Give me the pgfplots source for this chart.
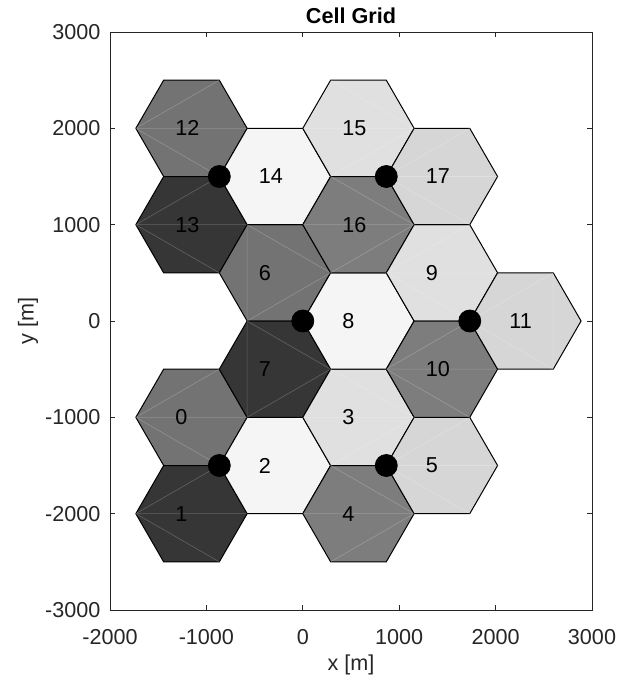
\documentclass[border=0pt]{standalone}
\usepackage{fontspec}
\setmainfont{Liberation Sans}
\usepackage{pgfplots}
\pgfplotsset{compat=1.18}
\definecolor{cMidA}{gray}{0.45}
\definecolor{cDark}{gray}{0.21}
\definecolor{cVLight}{gray}{0.96}
\definecolor{cLightA}{gray}{0.88}
\definecolor{cMidB}{gray}{0.49}
\definecolor{cLightB}{gray}{0.84}
\definecolor{axcol}{gray}{0.15}
\begin{document}
\fontsize{10.8}{13}\selectfont
\begin{tikzpicture}
\begin{axis}[
  scale only axis, width=241pt, height=289pt,
  xmin=-2000, xmax=3000, ymin=-3000, ymax=3000,
  xtick={-2000,-1000,0,1000,2000,3000},
  ytick={-3000,-2000,-1000,0,1000,2000,3000},
  scaled ticks=false,
  /pgf/number format/1000 sep={},
  /pgf/number format/assume math mode=true,
  tick align=inside, xtick pos=both, ytick pos=both,
  major tick length=2.5pt,
  axis line style={axcol, line width=0.4pt},
  every tick/.style={axcol, line width=0.4pt},
  tick label style={font=\fontsize{10.8}{13}\selectfont, text=axcol},
  xticklabel style={yshift=-6pt},
  yticklabel style={xshift=-1pt},
  title={Cell Grid},
  title style={at={(axis description cs:0.5,1)}, anchor=center, yshift=2pt, font=\fontsize{10.8}{13}\selectfont\bfseries, text=black},
  xlabel={x [m]}, ylabel={y [m]},
  xlabel style={at={(axis description cs:0.5,0)}, anchor=center, yshift=-27.5pt, font=\fontsize{10.8}{13}\selectfont, text=axcol},
  ylabel style={at={(axis description cs:0,0.5)}, anchor=center, yshift=41pt, font=\fontsize{10.8}{13}\selectfont, text=axcol},
  every node near coord/.append style={inner sep=0pt, font=\fontsize{10.8}{13}\selectfont, text=black},
  tri/.style={draw=white, draw opacity=0.22, line width=0.3pt, mark=none},
]
% hexagon cells
\addplot[draw=black, line width=0.5pt, fill=cMidA] coordinates {(-577.35,-1000) (-866.03,-500) (-1443.38,-500) (-1732.05,-1000) (-1443.38,-1500) (-866.03,-1500)} -- cycle; % 0
\addplot[draw=black, line width=0.5pt, fill=cDark] coordinates {(-577.35,-2000) (-866.03,-1500) (-1443.38,-1500) (-1732.05,-2000) (-1443.38,-2500) (-866.03,-2500)} -- cycle; % 1
\addplot[draw=black, line width=0.5pt, fill=cMidA] coordinates {(-577.35,2000) (-866.03,2500) (-1443.38,2500) (-1732.05,2000) (-1443.38,1500) (-866.03,1500)} -- cycle; % 12
\addplot[draw=black, line width=0.5pt, fill=cDark] coordinates {(-577.35,1000) (-866.03,1500) (-1443.38,1500) (-1732.05,1000) (-1443.38,500) (-866.03,500)} -- cycle; % 13
\addplot[draw=black, line width=0.5pt, fill=cVLight] coordinates {(288.68,-1500) (0,-1000) (-577.35,-1000) (-866.03,-1500) (-577.35,-2000) (0,-2000)} -- cycle; % 2
\addplot[draw=black, line width=0.5pt, fill=cMidA] coordinates {(288.68,500) (0,1000) (-577.35,1000) (-866.03,500) (-577.35,0) (0,0)} -- cycle; % 6
\addplot[draw=black, line width=0.5pt, fill=cDark] coordinates {(288.68,-500) (0,0) (-577.35,0) (-866.03,-500) (-577.35,-1000) (0,-1000)} -- cycle; % 7
\addplot[draw=black, line width=0.5pt, fill=cVLight] coordinates {(288.68,1500) (0,2000) (-577.35,2000) (-866.03,1500) (-577.35,1000) (0,1000)} -- cycle; % 14
\addplot[draw=black, line width=0.5pt, fill=cLightA] coordinates {(1154.70,-1000) (866.03,-500) (288.68,-500) (0,-1000) (288.68,-1500) (866.03,-1500)} -- cycle; % 3
\addplot[draw=black, line width=0.5pt, fill=cMidB] coordinates {(1154.70,-2000) (866.03,-1500) (288.68,-1500) (0,-2000) (288.68,-2500) (866.03,-2500)} -- cycle; % 4
\addplot[draw=black, line width=0.5pt, fill=cVLight] coordinates {(1154.70,0) (866.03,500) (288.68,500) (0,0) (288.68,-500) (866.03,-500)} -- cycle; % 8
\addplot[draw=black, line width=0.5pt, fill=cLightA] coordinates {(1154.70,2000) (866.03,2500) (288.68,2500) (0,2000) (288.68,1500) (866.03,1500)} -- cycle; % 15
\addplot[draw=black, line width=0.5pt, fill=cMidB] coordinates {(1154.70,1000) (866.03,1500) (288.68,1500) (0,1000) (288.68,500) (866.03,500)} -- cycle; % 16
\addplot[draw=black, line width=0.5pt, fill=cLightB] coordinates {(2020.73,-1500) (1732.05,-1000) (1154.70,-1000) (866.03,-1500) (1154.70,-2000) (1732.05,-2000)} -- cycle; % 5
\addplot[draw=black, line width=0.5pt, fill=cLightA] coordinates {(2020.73,500) (1732.05,1000) (1154.70,1000) (866.03,500) (1154.70,0) (1732.05,0)} -- cycle; % 9
\addplot[draw=black, line width=0.5pt, fill=cMidB] coordinates {(2020.73,-500) (1732.05,0) (1154.70,0) (866.03,-500) (1154.70,-1000) (1732.05,-1000)} -- cycle; % 10
\addplot[draw=black, line width=0.5pt, fill=cLightB] coordinates {(2020.73,1500) (1732.05,2000) (1154.70,2000) (866.03,1500) (1154.70,1000) (1732.05,1000)} -- cycle; % 17
\addplot[draw=black, line width=0.5pt, fill=cLightB] coordinates {(2886.75,0) (2598.08,500) (2020.73,500) (1732.05,0) (2020.73,-500) (2598.08,-500)} -- cycle; % 11
% faint patch triangulation edges
\addplot[tri] coordinates {(-866.03,-500) (-1732.05,-1000) (-577.35,-1000) (-1732.05,-1000) (-866.03,-1500)}; % 0
\addplot[tri] coordinates {(-866.03,-1500) (-1732.05,-2000) (-577.35,-2000) (-1732.05,-2000) (-866.03,-2500)}; % 1
\addplot[tri] coordinates {(-866.03,2500) (-1732.05,2000) (-577.35,2000) (-1732.05,2000) (-866.03,1500)}; % 12
\addplot[tri] coordinates {(-866.03,1500) (-1732.05,1000) (-577.35,1000) (-1732.05,1000) (-866.03,500)}; % 13
\addplot[tri] coordinates {(1732.05,2000) (866.03,1500) (2020.73,1500) (866.03,1500) (1732.05,1000)}; % 17
\addplot[tri] coordinates {(1732.05,-1000) (866.03,-1500) (2020.73,-1500) (866.03,-1500) (1732.05,-2000)}; % 5
\addplot[tri] coordinates {(1732.05,1000) (866.03,500) (2020.73,500) (866.03,500) (1732.05,0)}; % 9
\addplot[tri] coordinates {(1732.05,0) (866.03,-500) (2020.73,-500) (866.03,-500) (1732.05,-1000)}; % 10
\addplot[tri] coordinates {(288.68,2500) (1154.70,2000) (0,2000) (1154.70,2000) (288.68,1500)}; % 15
\addplot[tri] coordinates {(288.68,1500) (1154.70,1000) (0,1000) (1154.70,1000) (288.68,500)}; % 16
\addplot[tri] coordinates {(288.68,-1500) (1154.70,-2000) (0,-2000) (1154.70,-2000) (288.68,-2500)}; % 4
\addplot[tri] coordinates {(288.68,-500) (1154.70,-1000) (0,-1000) (1154.70,-1000) (288.68,-1500)}; % 3
\addplot[tri] coordinates {(-577.35,1000) (-577.35,0) (288.68,500) (-577.35,1000)}; % 6
\addplot[tri] coordinates {(-577.35,0) (-577.35,-1000) (288.68,-500) (-577.35,0)}; % 7
\addplot[tri] coordinates {(1732.05,0) (2598.08,500) (2598.08,-500) (1732.05,0)}; % 11
% base stations
\addplot[only marks, mark=*, mark size=5.5pt, black] coordinates {(-866.03,1500) (866.03,1500) (0,0) (1732.05,0) (-866.03,-1500) (866.03,-1500)};
% cell labels
\addplot[draw=none, nodes near coords, point meta=explicit symbolic, nodes near coords align={west}] table[meta=lab] {
x y lab
-1325 -1000 0
-1325 -2000 1
-459 -1500 2
407 -1000 3
407 -2000 4
1273 -1500 5
-459 500 6
-459 -500 7
407 0 8
1273 500 9
1273 -500 10
2139 0 11
-1325 2000 12
-1325 1000 13
-459 1500 14
407 2000 15
407 1000 16
1273 1500 17
};
\end{axis}
\pgfresetboundingbox
\path (current axis.south west) ++(-55pt,-37.5pt) rectangle ++(309.5pt,342.5pt);
\end{tikzpicture}
\end{document}
